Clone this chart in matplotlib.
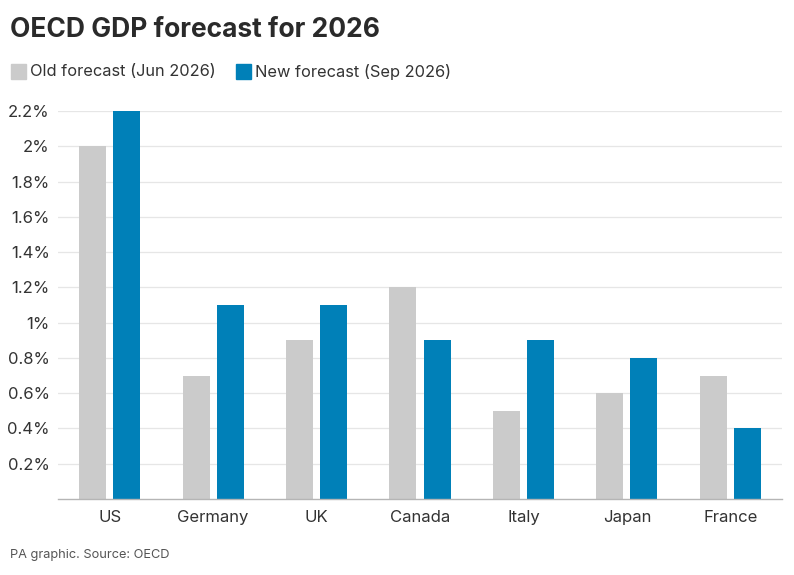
import numpy as np
import matplotlib
matplotlib.use("Agg")
import matplotlib.pyplot as plt
from matplotlib.patches import Rectangle

# data
countries = ["US", "Germany", "UK", "Canada", "Italy", "Japan", "France"]
old_forecast = [2.0, 0.7, 0.9, 1.2, 0.5, 0.6, 0.7]   # Jun 2026
new_forecast = [2.2, 1.1, 1.1, 0.9, 0.9, 0.8, 0.4]   # Sep 2026
y_ticks = [0.2, 0.4, 0.6, 0.8, 1.0, 1.2, 1.4, 1.6, 1.8, 2.0, 2.2]
y_labels = ["0.2%", "0.4%", "0.6%", "0.8%", "1%", "1.2%", "1.4%",
            "1.6%", "1.8%", "2%", "2.2%"]

grey = "#cbcbcb"
blue = "#0080b8"
text_col = "#333333"

plt.rcParams["font.family"] = ["Inter", "DejaVu Sans"]

W, H = 794, 575
fig = plt.figure(figsize=(W / 100, H / 100), dpi=100)
ax = fig.add_axes([58 / W, (H - 499) / H, (782 - 58) / W, (499 - 111) / H])

x = np.arange(len(countries))
bw = 0.262
off = 0.165
ax.bar(x - off, old_forecast, bw, color=grey, zorder=3)
ax.bar(x + off, new_forecast, bw, color=blue, zorder=3)

ax.set_xlim(-0.5, len(countries) - 0.5)
ax.set_ylim(0, 2.2)
ax.set_yticks(y_ticks)
ax.set_yticklabels(y_labels)
ax.set_xticks(x)
ax.set_xticklabels(countries)
ax.tick_params(axis="both", length=0, labelsize=12, labelcolor=text_col)
ax.tick_params(axis="y", pad=6)
ax.tick_params(axis="x", pad=8)
ax.grid(axis="y", color="#e6e6e6", linewidth=0.9, zorder=0)
for s in ["top", "right", "left"]:
    ax.spines[s].set_visible(False)
ax.spines["bottom"].set_color("#b5b5b5")
ax.spines["bottom"].set_linewidth(1.0)
ax.spines["bottom"].set_zorder(4)

# title
fig.text(10 / W, 1 - 30 / H, "OECD GDP forecast for 2026", fontsize=19,
         fontweight="bold", color="#2a2a2a", va="center", ha="left")

# legend
for sx, col, lab in [(11, grey, "Old forecast (Jun 2026)"),
                     (236, blue, "New forecast (Sep 2026)")]:
    fig.patches.append(Rectangle((sx / W, 1 - 79 / H), 15 / W, 15 / H,
                                 transform=fig.transFigure, color=col))
    fig.text((sx + 19) / W, 1 - 72 / H, lab, fontsize=11.8, color=text_col,
             va="center", ha="left")

# source
fig.text(10 / W, 1 - 555 / H, "PA graphic. Source: OECD", fontsize=9.2,
         color="#555555", va="center", ha="left")

fig.savefig("out.png", dpi=100, facecolor="white")
